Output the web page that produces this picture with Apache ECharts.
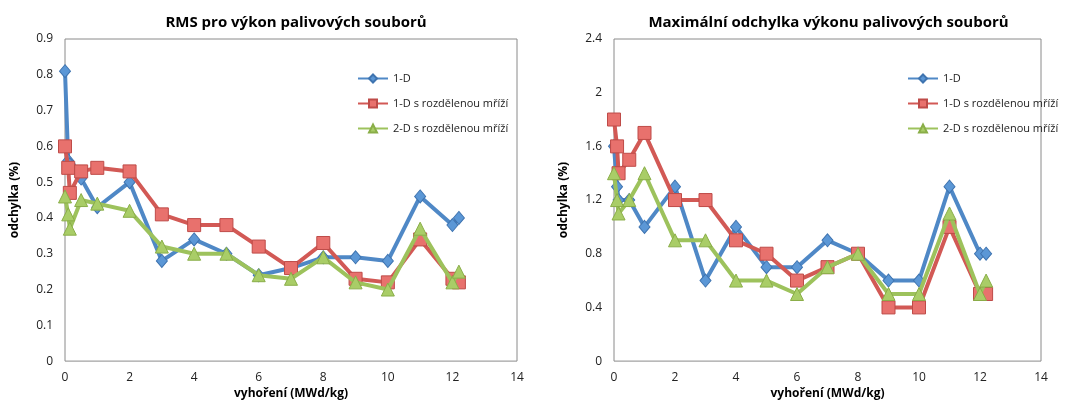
<!DOCTYPE html>
<html>
<head>
<meta charset="utf-8">
<script src="https://cdn.jsdelivr.net/npm/echarts@6/dist/echarts.min.js"></script>
<style>
  html, body { margin: 0; padding: 0; background: #fff; }
  #chart { width: 1076px; height: 405px; }
</style>
</head>
<body>
<div id="chart"></div>
<script>
// Burnup steps (MWd/kg)
const burnup = [0, 0.1, 0.15, 0.5, 1, 2, 3, 4, 5, 6, 7, 8, 9, 10, 11, 12, 12.2];

// RMS of assembly power deviation (%)
const rms1D      = [0.81, 0.56, 0.55, 0.51, 0.43, 0.50, 0.28, 0.34, 0.30, 0.24, 0.26, 0.29, 0.29, 0.28, 0.46, 0.38, 0.40];
const rms1DSplit = [0.60, 0.54, 0.47, 0.53, 0.54, 0.53, 0.41, 0.38, 0.38, 0.32, 0.26, 0.33, 0.23, 0.22, 0.34, 0.23, 0.22];
const rms2DSplit = [0.46, 0.41, 0.37, 0.45, 0.44, 0.42, 0.32, 0.30, 0.30, 0.24, 0.23, 0.29, 0.22, 0.20, 0.37, 0.22, 0.25];

// Maximum assembly power deviation (%)
const max1D      = [1.6, 1.3, 1.2, 1.2, 1.0, 1.3, 0.6, 1.0, 0.7, 0.7, 0.9, 0.8, 0.6, 0.6, 1.3, 0.8, 0.8];
const max1DSplit = [1.8, 1.6, 1.4, 1.5, 1.7, 1.2, 1.2, 0.9, 0.8, 0.6, 0.7, 0.8, 0.4, 0.4, 1.0, 0.5, 0.5];
const max2DSplit = [1.4, 1.2, 1.1, 1.2, 1.4, 0.9, 0.9, 0.6, 0.6, 0.5, 0.7, 0.8, 0.5, 0.5, 1.1, 0.5, 0.6];

const seriesNames = ['1-D', '1-D s rozdělenou mříží', '2-D s rozdělenou mříží'];
const titles = ['RMS pro výkon palivových souborů', 'Maximální odchylka výkonu palivových souborů'];
const xName = 'vyhoření (MWd/kg)';
const yName = 'odchylka (%)';

const FONT = '"Open Sans", "Liberation Sans", sans-serif';
const styles = [
  { line: '#4F88C6', fill: '#5B97D6', border: '#3F74B0', symbol: 'diamond', size: [11, 13] },
  { line: '#D25955', fill: '#E8716D', border: '#BE4B48', symbol: 'rect', size: 13 },
  { line: '#9DC25C', fill: '#A9CD67', border: '#8AAE48', symbol: 'triangle', size: 13 }
];

function pairs(ys) { return burnup.map((x, i) => [x, ys[i]]); }

const grids = [
  { left: 65, top: 39, width: 452, height: 326 },
  { left: 614, top: 39, width: 427, height: 326 }
];
const yAxesCfg = [
  { max: 0.9, interval: 0.1, fmt: v => v === 0 ? '0' : v.toFixed(1) },
  { max: 2.4, interval: 0.4, fmt: v => v === 0 ? '0' : String(+v.toFixed(1)) }
];
const dataSets = [
  [rms1D, rms1DSplit, rms2DSplit],
  [max1D, max1DSplit, max2DSplit]
];

const option = {
  backgroundColor: '#fff',
  animation: false,
  textStyle: { fontFamily: FONT },
  title: titles.map((t, i) => ({
    text: t,
    left: grids[i].left + grids[i].width / 2 + (i === 0 ? 0 : -4),
    textAlign: 'center',
    top: 10,
    textStyle: { fontFamily: FONT, fontSize: 15, fontWeight: 'bold', color: '#000' }
  })),
  legend: [0, 1].map(i => ({
    data: seriesNames,
    orient: 'vertical',
    left: i === 0 ? 352 : 902,
    top: 68,
    itemGap: 14,
    itemWidth: 30,
    itemHeight: 10,
    textStyle: { fontFamily: FONT, fontSize: 11, color: '#222' },
    selectedMode: false
  })),
  grid: grids.map(g => Object.assign({ show: true, borderColor: '#8a8a8a', borderWidth: 1, backgroundColor: 'transparent' }, g)),
  xAxis: [0, 1].map(i => ({
    type: 'value',
    gridIndex: i,
    min: 0, max: 14, interval: 2,
    name: xName,
    nameLocation: 'middle',
    nameGap: 22,
    nameTextStyle: { fontFamily: FONT, fontSize: 12, fontWeight: 'bold', color: '#000' },
    axisLine: { show: false },
    axisTick: { show: false },
    splitLine: { show: false },
    axisLabel: { fontFamily: FONT, fontSize: 12, color: '#222', margin: 10 }
  })),
  yAxis: [0, 1].map(i => ({
    type: 'value',
    gridIndex: i,
    min: 0, max: yAxesCfg[i].max, interval: yAxesCfg[i].interval,
    name: yName,
    nameLocation: 'middle',
    nameGap: 44,
    nameTextStyle: { fontFamily: FONT, fontSize: 12, fontWeight: 'bold', color: '#000' },
    axisLine: { show: false },
    axisTick: { show: false },
    splitLine: { show: false },
    axisLabel: { fontFamily: FONT, fontSize: 12, color: '#222', margin: 12, formatter: yAxesCfg[i].fmt }
  })),
  series: []
};

[0, 1].forEach(g => {
  dataSets[g].forEach((ys, k) => {
    const s = styles[k];
    option.series.push({
      name: seriesNames[k],
      type: 'line',
      xAxisIndex: g,
      yAxisIndex: g,
      data: pairs(ys),
      symbol: s.symbol,
      symbolSize: s.size,
      showAllSymbol: true,
      lineStyle: { color: s.line, width: 4 },
      itemStyle: { color: s.fill, borderColor: s.border, borderWidth: 1, opacity: 1 },
      emphasis: { disabled: true },
      z: 2 + k
    });
  });
});

const chart = echarts.init(document.getElementById('chart'), null, { renderer: 'canvas' });
chart.setOption(option);
</script>
</body>
</html>
